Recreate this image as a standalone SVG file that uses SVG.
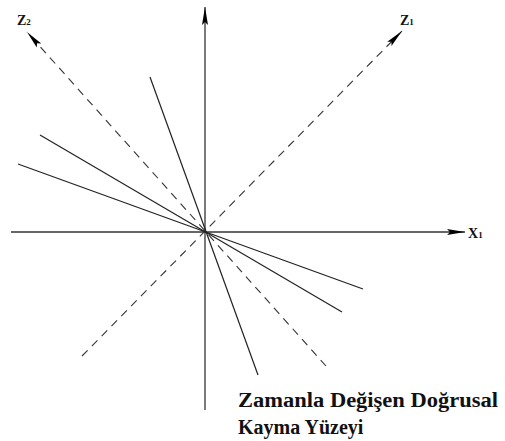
<svg xmlns="http://www.w3.org/2000/svg" width="505" height="441" viewBox="0 0 505 441">
<style>
.ax{stroke:#333;stroke-width:1.3;fill:none}
.sl{stroke:#222;stroke-width:1.2;fill:none}
.dl{stroke:#333;stroke-width:1.1;stroke-dasharray:8 6;fill:none}
.lbl{font-family:"Liberation Serif","Times New Roman",serif;font-weight:bold;fill:#111}
</style>
<defs>
<marker id="ah" viewBox="0 0 18 8" refX="18" refY="4" markerWidth="18" markerHeight="8" markerUnits="userSpaceOnUse" orient="auto">
<path d="M0,1 L18,4 L0,7 L3,4 Z" fill="#000"/>
</marker>
</defs>
<rect width="505" height="441" fill="#fff"/>
<g id="connectors">
<line class="ax" x1="205" y1="410" x2="205" y2="7" marker-end="url(#ah)"/>
<line class="ax" x1="11" y1="232" x2="465" y2="232" marker-end="url(#ah)"/>
<line class="dl" x1="326" y1="366" x2="27" y2="32" marker-end="url(#ah)"/>
<line class="dl" x1="82" y1="356" x2="402" y2="31" marker-end="url(#ah)"/>
<line class="sl" x1="40" y1="135" x2="342" y2="312"/>
<line class="sl" x1="18" y1="164" x2="363" y2="289"/>
<line class="sl" x1="150" y1="77" x2="258" y2="375"/>
</g>
<g id="label-z2"><text class="lbl" x="17" y="25" font-size="14">Z<tspan font-size="9">2</tspan></text></g>
<g id="label-z1"><text class="lbl" x="400" y="25" font-size="14">Z<tspan font-size="9">1</tspan></text></g>
<g id="label-x1"><text class="lbl" x="468" y="238" font-size="14">X<tspan font-size="9">1</tspan></text></g>
<g id="caption">
<text class="lbl" x="238" y="407" font-size="20" textLength="260" lengthAdjust="spacingAndGlyphs">Zamanla Değişen Doğrusal</text>
<text class="lbl" x="238" y="434" font-size="20">Kayma Yüzeyi</text>
</g>
</svg>
